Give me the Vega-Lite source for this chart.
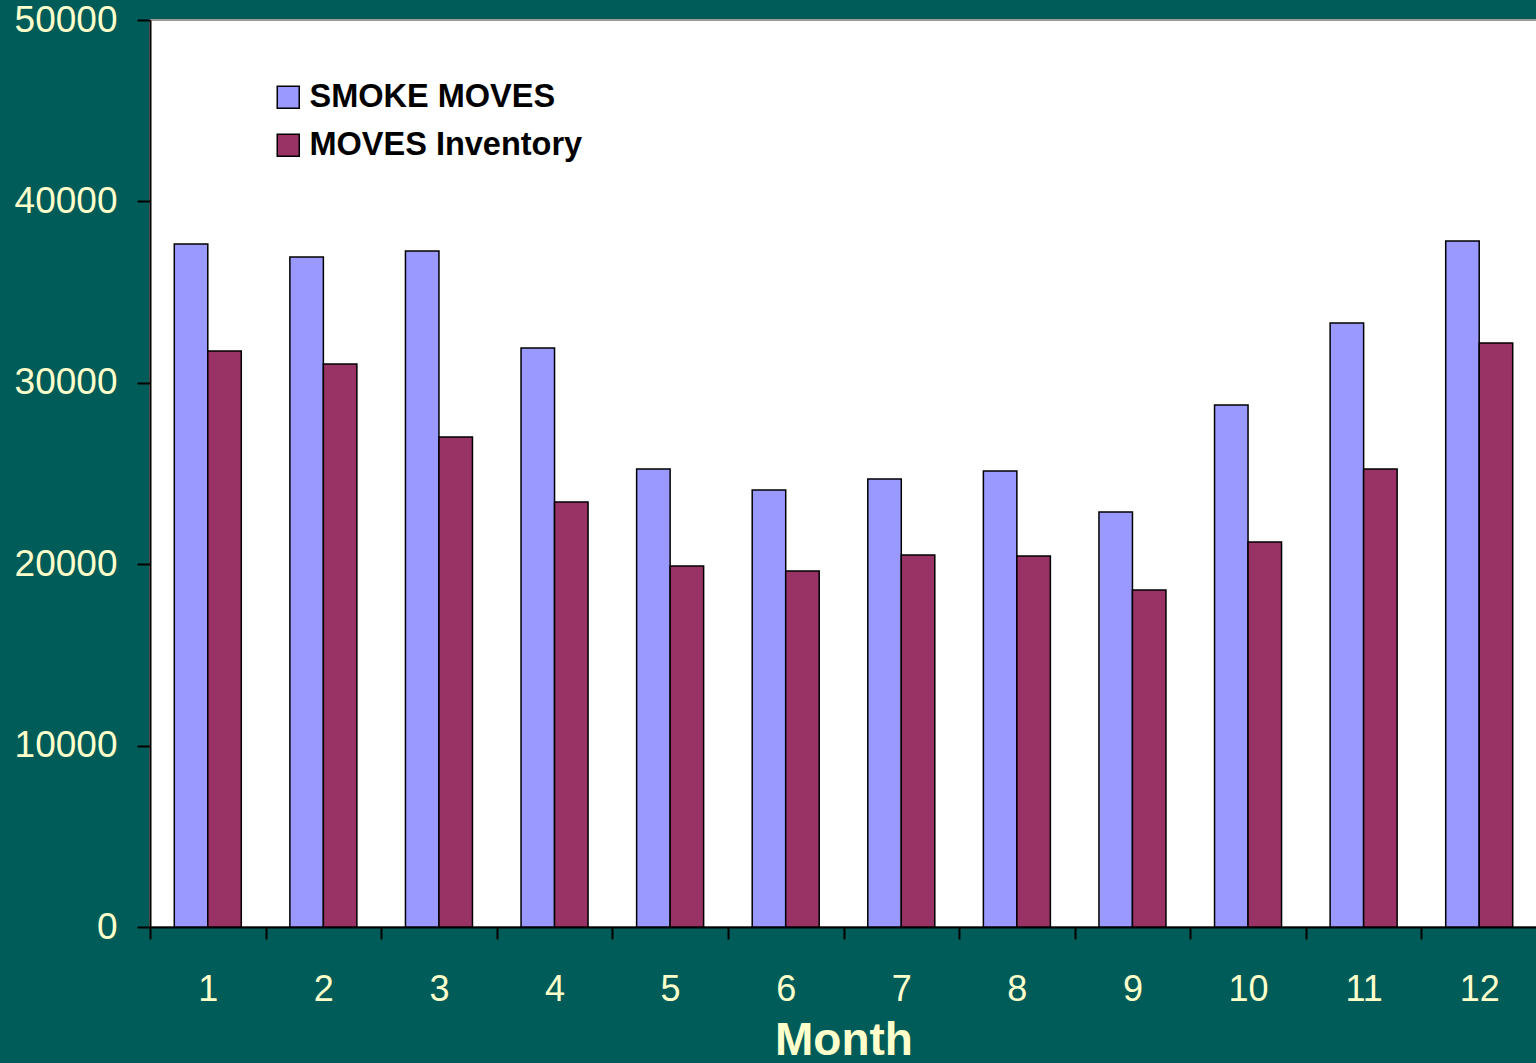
{
  "$schema": "https://vega.github.io/schema/vega-lite/v6.json",
  "autosize": {"type": "none"},
  "padding": {"left": 150, "top": 20, "right": 0, "bottom": 136},
  "width": 1387,
  "height": 907,
  "background": "#005C59",
  "config": {
    "font": "Liberation Sans",
    "view": {"fill": "white", "stroke": "#9a9a9a", "strokeWidth": 2}
  },
  "data": {
    "values": [
      {"Month": 1, "Series": "SMOKE MOVES", "Value": 37650},
      {"Month": 1, "Series": "MOVES Inventory", "Value": 31750},
      {"Month": 2, "Series": "SMOKE MOVES", "Value": 36935},
      {"Month": 2, "Series": "MOVES Inventory", "Value": 31036},
      {"Month": 3, "Series": "SMOKE MOVES", "Value": 37266},
      {"Month": 3, "Series": "MOVES Inventory", "Value": 27012},
      {"Month": 4, "Series": "SMOKE MOVES", "Value": 31918},
      {"Month": 4, "Series": "MOVES Inventory", "Value": 23429},
      {"Month": 5, "Series": "SMOKE MOVES", "Value": 25248},
      {"Month": 5, "Series": "MOVES Inventory", "Value": 19901},
      {"Month": 6, "Series": "SMOKE MOVES", "Value": 24090},
      {"Month": 6, "Series": "MOVES Inventory", "Value": 19625},
      {"Month": 7, "Series": "SMOKE MOVES", "Value": 24697},
      {"Month": 7, "Series": "MOVES Inventory", "Value": 20507},
      {"Month": 8, "Series": "SMOKE MOVES", "Value": 25138},
      {"Month": 8, "Series": "MOVES Inventory", "Value": 20452},
      {"Month": 9, "Series": "SMOKE MOVES", "Value": 22878},
      {"Month": 9, "Series": "MOVES Inventory", "Value": 18578},
      {"Month": 10, "Series": "SMOKE MOVES", "Value": 28776},
      {"Month": 10, "Series": "MOVES Inventory", "Value": 21224},
      {"Month": 11, "Series": "SMOKE MOVES", "Value": 33297},
      {"Month": 11, "Series": "MOVES Inventory", "Value": 25248},
      {"Month": 12, "Series": "SMOKE MOVES", "Value": 37817},
      {"Month": 12, "Series": "MOVES Inventory", "Value": 32194}
    ]
  },
  "mark": {"type": "bar", "stroke": "black", "strokeWidth": 1.5},
  "encoding": {
    "x": {
      "field": "Month",
      "type": "ordinal",
      "scale": {"paddingInner": 0, "paddingOuter": 0},
      "axis": {
        "title": "Month",
        "titleFont": "Liberation Sans",
        "titleFontSize": 46,
        "titleFontWeight": "bold",
        "titleColor": "#FFFFCC",
        "titlePadding": 11,
        "labelAngle": 0,
        "labelFontSize": 36,
        "labelColor": "#FFFFCC",
        "labelPadding": 33,
        "tickBand": "extent",
        "tickColor": "black",
        "tickWidth": 2,
        "tickSize": 12,
        "domainColor": "black",
        "domainWidth": 2
      }
    },
    "xOffset": {
      "field": "Series",
      "type": "nominal",
      "sort": ["SMOKE MOVES", "MOVES Inventory"],
      "scale": {"paddingInner": 0, "paddingOuter": 0.725}
    },
    "y": {
      "field": "Value",
      "type": "quantitative",
      "scale": {"domain": [0, 50000], "nice": false},
      "axis": {
        "title": null,
        "values": [0, 10000, 20000, 30000, 40000, 50000],
        "format": "d",
        "grid": false,
        "labelFontSize": 37,
        "labelColor": "#FFFFCC",
        "labelPadding": 20,
        "tickColor": "black",
        "tickWidth": 2,
        "tickSize": 13,
        "domainColor": "black",
        "domainWidth": 2
      }
    },
    "color": {
      "field": "Series",
      "type": "nominal",
      "scale": {"domain": ["SMOKE MOVES", "MOVES Inventory"], "range": ["#9999FF", "#993366"]},
      "legend": {
        "title": null,
        "orient": "none",
        "legendX": 122,
        "legendY": 61,
        "padding": 0,
        "symbolType": "square",
        "symbolSize": 484,
        "symbolStrokeColor": "black",
        "symbolStrokeWidth": 1.5,
        "symbolOpacity": 1,
        "labelFontSize": 32.5,
        "labelFontWeight": "bold",
        "labelColor": "black",
        "labelOffset": 5,
        "labelLimit": 0,
        "rowPadding": 15
      }
    }
  }
}
